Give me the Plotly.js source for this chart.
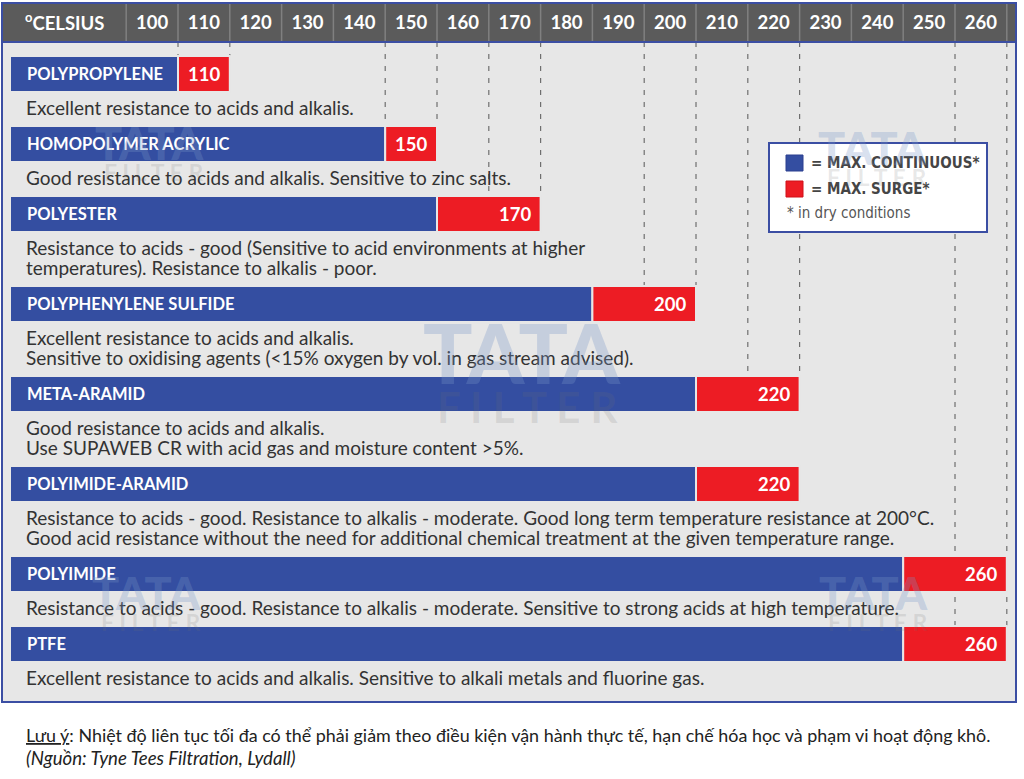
<!DOCTYPE html>
<html>
<head>
<meta charset="utf-8">
<script src="https://cdn.plot.ly/plotly-3.0.1.min.js"></script>
<style>html,body{margin:0;padding:0;background:#fff}#chart{width:1024px;height:779px}</style>
</head>
<body>
<div id="chart"></div>
<script>
// ---------------- DATA ----------------
const temps = [100,110,120,130,140,150,160,170,180,190,200,210,220,230,240,250,260];
const materials = ['POLYPROPYLENE','HOMOPOLYMER ACRYLIC','POLYESTER','POLYPHENYLENE SULFIDE','META-ARAMID','POLYIMIDE-ARAMID','POLYIMIDE','PTFE'];
const maxContinuous = [100,140,150,180,200,200,240,240];
const maxSurge = [110,150,170,200,220,220,260,260];
const descriptions = [
  ['Excellent resistance to acids and alkalis.'],
  ['Good resistance to acids and alkalis. Sensitive to zinc salts.'],
  ['Resistance to acids - good (Sensitive to acid environments at higher','temperatures). Resistance to alkalis - poor.'],
  ['Excellent resistance to acids and alkalis.','Sensitive to oxidising agents (&lt;15% oxygen by vol. in gas stream advised).'],
  ['Good resistance to acids and alkalis.','Use SUPAWEB CR with acid gas and moisture content &gt;5%.'],
  ['Resistance to acids - good. Resistance to alkalis - moderate. Good long term temperature resistance at 200°C.','Good acid resistance without the need for additional chemical treatment at the given temperature range.'],
  ['Resistance to acids - good. Resistance to alkalis - moderate. Sensitive to strong acids at high temperature.'],
  ['Excellent resistance to acids and alkalis. Sensitive to alkali metals and fluorine gas.']
];
const gridTemps = [100,110,140,150,160,170,190,200,210,220,250,260];
const axisLabel = '<sup>o</sup>CELSIUS';
const legendLabels = ['= MAX. CONTINUOUS*','= MAX. SURGE*'];
const legendNote = '* in dry conditions';
const noteLine1 = '<u>Lưu ý</u>: Nhiệt độ liên tục tối đa có thể phải giảm theo điều kiện vận hành thực tế, hạn chế hóa học và phạm vi hoạt động khô.';
const noteLine2 = '<i>(Nguồn: Tyne Tees Filtration, Lydall)</i>';

// ---------------- LAYOUT HELPERS ----------------
const W = 1024, H = 779, TOP = 42;
const PX_PER_DEG = 5.18, PX_AT_100 = 178;
const toVal = px => 100 + (px - PX_AT_100) / PX_PER_DEG;
const px = x => x / W;                      // paper x
const py = y => (H - y) / (H - TOP);        // paper y from page px
const barStart = toVal(10);
const BAR_H = 36;
const BLUE = '#344ea1', RED = '#ed1c24', BG = '#e7e7e7', BORDER = '#3b4ea3';
const TEXT = "Lato, 'Open Sans', sans-serif";
const NARROW = "'DejaVu Sans Condensed', 'Liberation Sans Narrow', sans-serif";

// row centers from the number of description lines
const centers = [];
let c = 74;
descriptions.forEach((d, i) => { centers.push(c); c += 50 + 20 * d.length; });

// ---------------- TRACES ----------------
const blue = {
  type: 'bar', orientation: 'h', y: centers,
  x: maxContinuous.map(v => v - barStart), base: maxContinuous.map(() => barStart),
  width: BAR_H, marker: {color: BLUE, line: {color: BG, width: 2}},
  hoverinfo: 'skip', showlegend: false
};
const red = {
  type: 'bar', orientation: 'h', y: centers,
  x: maxSurge.map((v, i) => v - maxContinuous[i]), base: maxContinuous,
  width: BAR_H, marker: {color: RED, line: {color: BG, width: 2}},
  hoverinfo: 'skip', showlegend: false
};

// ---------------- SHAPES ----------------
const shapes = [];
shapes.push({type:'rect', xref:'paper', yref:'paper', x0:px(2), x1:px(1016), y0:py(702), y1:py(3), fillcolor:BG, line:{width:0}, layer:'below'});
shapes.push({type:'rect', xref:'paper', yref:'paper', x0:px(2), x1:px(1016), y0:py(42), y1:py(3), fillcolor:'#5b5b5b', line:{width:0}, layer:'below'});
[temps[0] - 10].concat(temps).forEach(v => {
  shapes.push({type:'line', xref:'x', yref:'paper', x0:v, x1:v, y0:py(42), y1:py(4), line:{color:'#808080', width:1.5}, layer:'below'});
});
// dashed guides down to the first bar that reaches them
gridTemps.forEach(g => {
  const r = maxSurge.findIndex(s => s >= g);
  shapes.push({type:'line', xref:'x', yref:'y', x0:g, x1:g, y0:TOP, y1:centers[r] - BAR_H / 2, line:{color:'#6f6f6f', width:1.2, dash:'5px,7px'}, layer:'below'});
  if (g >= 250) {
    shapes.push({type:'line', xref:'x', yref:'y', x0:g, x1:g, y0:centers[6] + BAR_H / 2 + 5, y1:centers[7] - BAR_H / 2, line:{color:'#6f6f6f', width:1.2, dash:'5px,7px'}, layer:'below'});
  }
});
// frame
shapes.push({type:'line', xref:'paper', yref:'paper', x0:px(2), x1:px(1016), y0:py(42), y1:py(42), line:{color:BORDER, width:2}, layer:'above'});
shapes.push({type:'rect', xref:'paper', yref:'paper', x0:px(2), x1:px(1016), y0:py(702), y1:py(3), line:{color:BORDER, width:2}, fillcolor:'rgba(0,0,0,0)', layer:'above'});
// legend box
shapes.push({type:'rect', xref:'paper', yref:'y', x0:px(769), x1:px(987), y0:143, y1:232, fillcolor:'#ffffff', line:{color:BORDER, width:2}, layer:'above'});
shapes.push({type:'rect', xref:'paper', yref:'y', x0:px(786), x1:px(803), y0:155, y1:171, fillcolor:BLUE, line:{color:'#2a3f8f', width:1}, layer:'above'});
shapes.push({type:'rect', xref:'paper', yref:'y', x0:px(786), x1:px(803), y0:181, y1:197, fillcolor:RED, line:{color:'#d01018', width:1}, layer:'above'});

// ---------------- ANNOTATIONS ----------------
const ann = [];
ann.push({xref:'paper', yref:'paper', x:px(64), y:py(22), text:axisLabel, showarrow:false, xanchor:'center', yanchor:'middle', font:{family:TEXT, size:18.5, color:'#fff', weight:'bold'}});
materials.forEach((m, i) => {
  ann.push({xref:'x', yref:'y', x:barStart, y:centers[i], text:m, showarrow:false, xanchor:'left', yanchor:'middle', xshift:15, font:{family:TEXT, size:16.5, color:'#fff', weight:'bold'}});
  ann.push({xref:'x', yref:'y', x:maxSurge[i], y:centers[i], text:String(maxSurge[i]), showarrow:false, xanchor:'right', yanchor:'middle', xshift:-8, font:{family:TEXT, size:18.5, color:'#fff', weight:'bold'}});
  descriptions[i].forEach((line, j) => {
    ann.push({xref:'paper', yref:'y', x:px(24), y:centers[i] + BAR_H / 2 + 15 + 20 * j, text:line, showarrow:false, xanchor:'left', yanchor:'middle', font:{family:TEXT, size:19, color:'#333333'}});
  });
});
// legend texts
ann.push({xref:'paper', yref:'y', x:px(809), y:163, text:legendLabels[0], showarrow:false, xanchor:'left', yanchor:'middle', font:{family:NARROW, size:15, color:'#454545', weight:'bold'}});
ann.push({xref:'paper', yref:'y', x:px(809), y:189, text:legendLabels[1], showarrow:false, xanchor:'left', yanchor:'middle', font:{family:NARROW, size:15, color:'#454545', weight:'bold'}});
ann.push({xref:'paper', yref:'y', x:px(785), y:213, text:legendNote, showarrow:false, xanchor:'left', yanchor:'middle', font:{family:NARROW, size:15, color:'#555555'}});
// note under the chart
ann.push({xref:'paper', yref:'y', x:px(24), y:735, text:noteLine1, showarrow:false, xanchor:'left', yanchor:'middle', font:{family:TEXT, size:17.9, color:'#222222'}});
ann.push({xref:'paper', yref:'y', x:px(24), y:758, text:noteLine2, showarrow:false, xanchor:'left', yanchor:'middle', font:{family:TEXT, size:18.6, color:'#222222'}});
// watermarks
const marks = [
  {x:522, y:352, s:1},
  {x:873, y:147, s:0.55},
  {x:150, y:142, s:0.55},
  {x:147, y:592, s:0.55},
  {x:874, y:592, s:0.55}
];
marks.forEach(m => {
  ann.push({xref:'paper', yref:'y', x:px(m.x), y:m.y, text:'TATA', showarrow:false, xanchor:'center', yanchor:'middle', font:{family:TEXT, size:82 * m.s, color:'rgba(120,150,200,0.30)', weight:900}});
  ann.push({xref:'paper', yref:'y', x:px(m.x + 6 * m.s), y:m.y + 55 * m.s, text:'F I L T E R', showarrow:false, xanchor:'center', yanchor:'middle', font:{family:TEXT, size:42 * m.s, color:'rgba(110,110,110,0.16)', weight:'bold'}});
});

const layout = {
  width: W, height: H,
  margin: {l:0, r:0, t:TOP, b:0, pad:0},
  paper_bgcolor: '#ffffff', plot_bgcolor: 'rgba(0,0,0,0)',
  barmode: 'overlay', showlegend: false,
  xaxis: {
    range: [toVal(0), toVal(W)], side: 'top', fixedrange: true,
    tickmode: 'array', tickvals: temps.map(t => t - 5), ticktext: temps.map(String),
    ticks: '', showgrid: false, zeroline: false, showline: false,
    tickfont: {family: TEXT, size: 18.5, color: '#ffffff', weight: 'bold'},
    ticklabelstandoff: 8
  },
  yaxis: {range: [H, TOP], visible: false, fixedrange: true},
  shapes: shapes,
  annotations: ann
};

Plotly.newPlot('chart', [blue, red], layout, {staticPlot: true, displayModeBar: false});
</script>
</body>
</html>
